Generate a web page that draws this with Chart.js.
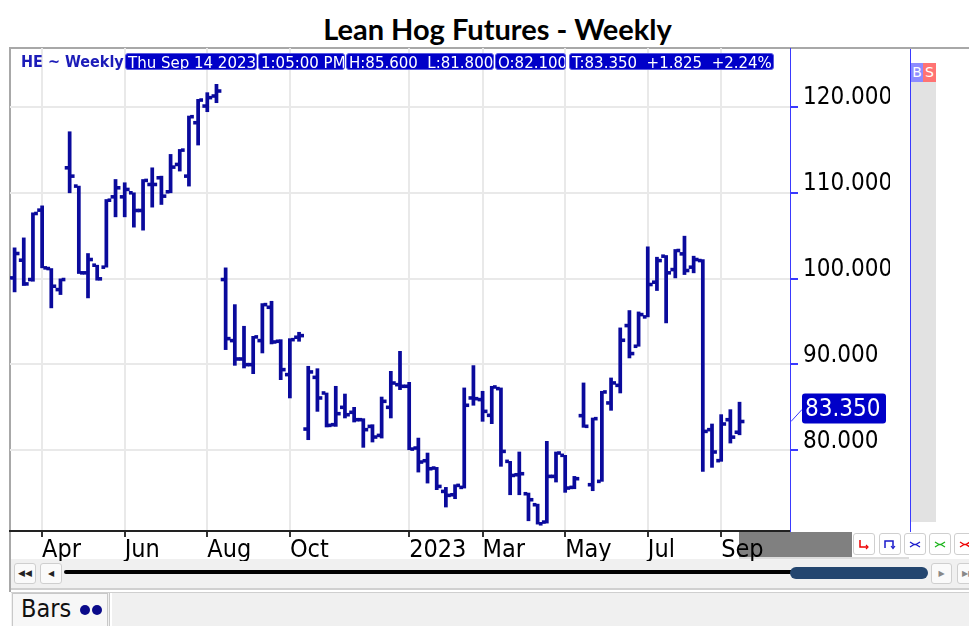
<!DOCTYPE html>
<html><head><meta charset="utf-8">
<script src="https://cdn.jsdelivr.net/npm/chart.js@4.4.0/dist/chart.umd.min.js"></script>
<style>
html,body{margin:0;padding:0;background:#fff;width:969px;height:626px;overflow:hidden;position:relative;font-family:"DejaVu Sans",sans-serif;}
.abs{position:absolute;}
#title{left:0;top:11px;width:995px;text-align:center;font:bold 29px Lato,"Open Sans",sans-serif;color:#000;}
.hbox{position:absolute;top:53px;height:17px;line-height:17px;background:#0000c8;color:#fff;font:15px "DejaVu Sans",sans-serif;white-space:pre;border:1px solid #5a5ae0;border-radius:3px;box-sizing:border-box;padding-left:2px;overflow:hidden;}
.btn{position:absolute;background:#fff;border:1px solid #cfcfcf;border-radius:3px;box-sizing:border-box;}
canvas{position:absolute;left:0;top:0;z-index:2;}
.top{z-index:3;}
</style>
</head><body>
<div id="title" class="abs">Lean Hog Futures - Weekly</div>
<!-- frame -->
<div class="abs" style="left:9px;top:47px;width:960px;height:2px;background:#a8a8a8"></div>
<div class="abs" style="left:9px;top:47px;width:2px;height:545px;background:#a8a8a8"></div>
<!-- gray box under x axis -->
<div class="abs" style="left:739px;top:532px;width:113px;height:25px;background:#808080"></div>
<div class="abs" style="left:739px;top:557px;width:170px;height:2px;background:#dcdcdc"></div>
<!-- right strip -->
<div class="abs top" style="left:910px;top:49px;width:1px;height:483px;background:#3a3aff"></div>
<div class="abs" style="left:911px;top:63px;width:25px;height:459px;background:#e2e2e2"></div>
<div class="abs top" style="left:911px;top:63px;width:12px;height:19px;background:#8c8cff;color:#fff;font:14px 'DejaVu Sans';line-height:19px;text-align:center">B</div>
<div class="abs top" style="left:923px;top:63px;width:13px;height:19px;background:#ff7373;color:#fff;font:14px 'DejaVu Sans';line-height:19px;text-align:center">S</div>
<!-- axis row buttons -->
<div class="btn" style="left:853px;top:533px;width:22px;height:22px"><svg width="20" height="20"><path d="M6 6 V13 H13" stroke="#e00" stroke-width="1.5" fill="none"/><path d="M12 11 L14 13 L12 15" stroke="#e00" stroke-width="1.2" fill="none"/></svg></div>
<div class="btn" style="left:879px;top:533px;width:22px;height:22px"><svg width="20" height="20"><path d="M5 14 V7 H13 V14" stroke="#1a1acc" stroke-width="1.5" fill="none"/><path d="M11 12 L13 14.5 L15 12" stroke="#1a1acc" stroke-width="1.2" fill="none"/></svg></div>
<div class="btn" style="left:904px;top:533px;width:22px;height:22px"><svg width="20" height="20"><path d="M5 8 L9 10.5 L5 13 M15 8 L11 10.5 L15 13 M8 10.5 H12" stroke="#1a1acc" stroke-width="1.3" fill="none"/></svg></div>
<div class="btn" style="left:929px;top:533px;width:22px;height:22px"><svg width="20" height="20"><path d="M5 8 L9 10.5 L5 13 M15 8 L11 10.5 L15 13 M8 10.5 H12" stroke="#1bb41b" stroke-width="1.3" fill="none"/></svg></div>
<div class="btn" style="left:954px;top:533px;width:22px;height:22px"><svg width="20" height="20"><path d="M5 8 L9 10.5 L5 13 M15 8 L11 10.5 L15 13 M8 10.5 H12" stroke="#e00" stroke-width="1.3" fill="none"/></svg></div>
<!-- scroll area -->
<div class="abs" style="left:11px;top:559px;width:958px;height:29px;background:#f0f0f0"></div>
<div class="btn" style="left:14px;top:563px;width:22px;height:21px;background:#fafafa;font:9px 'DejaVu Sans';line-height:19px;text-align:center;color:#222">◀◀</div>
<div class="btn" style="left:40px;top:563px;width:22px;height:21px;background:#fafafa;font:8px 'DejaVu Sans';line-height:19px;text-align:center;color:#222">◀</div>
<div class="abs" style="left:64px;top:570px;width:730px;height:4px;background:#000;border-radius:2px"></div>
<div class="abs" style="left:790px;top:567px;width:138px;height:12px;background:#24466f;border-radius:6px"></div>
<div class="btn" style="left:931px;top:563px;width:21px;height:21px;background:#fafafa;font:8px 'DejaVu Sans';line-height:19px;text-align:center;color:#888">▶</div>
<div class="btn" style="left:957px;top:563px;width:22px;height:21px;background:#fafafa;font:8px 'DejaVu Sans';line-height:19px;text-align:left;padding-left:4px;color:#888">▶▶</div>
<!-- bottom tabs -->
<div class="abs" style="left:11px;top:588px;width:958px;height:2px;background:#cfcfcf"></div>
<div class="abs" style="left:11px;top:590px;width:958px;height:2px;background:#fff"></div>
<div class="abs" style="left:11px;top:592px;width:958px;height:34px;background:#f0f0f0;border-top:1px solid #cfcfcf;box-sizing:border-box"></div>
<div class="abs" style="left:12px;top:593px;width:96px;height:33px;background:#f7f7f7;border:1px solid #c8c8c8;border-bottom:none;box-sizing:border-box"></div>
<div class="abs" style="left:109px;top:593px;width:3px;height:33px;background:#fff;border-left:1px solid #c8c8c8;box-sizing:border-box"></div>
<div class="abs" style="left:21px;top:594px;font:25px 'DejaVu Sans Condensed','DejaVu Sans';color:#111;line-height:30px">Bars</div>
<div class="abs" style="left:80px;top:605px;width:10px;height:10px;border-radius:50%;background:#0a0a8a"></div>
<div class="abs" style="left:92px;top:605px;width:10px;height:10px;border-radius:50%;background:#0a0a8a"></div>
<!-- header info -->
<div class="abs top" style="left:21px;top:52px;font:bold 16px 'DejaVu Sans Condensed','DejaVu Sans';color:#1c1cb8;line-height:19px;white-space:pre">HE ~ Weekly</div>
<div class="hbox top" style="left:125px;width:132px">Thu Sep 14 2023</div>
<div class="hbox top" style="left:258px;width:87px">1:05:00 PM</div>
<div class="hbox top" style="left:346px;width:148px">H:85.600  L:81.800</div>
<div class="hbox top" style="left:495px;width:71px">O:82.100</div>
<div class="hbox top" style="left:569px;width:205px">T:83.350  +1.825  +2.24%</div>

<canvas id="c" width="969" height="626"></canvas>
<script>
// weekly bars (week ending dates)
const weeks = [
 '2022-03-11','2022-03-18','2022-03-25','2022-04-01','2022-04-08','2022-04-15','2022-04-22','2022-04-29',
 '2022-05-06','2022-05-13','2022-05-20','2022-05-27','2022-06-03','2022-06-10','2022-06-17','2022-06-24',
 '2022-07-01','2022-07-08','2022-07-15','2022-07-22','2022-07-29','2022-08-05','2022-08-12','2022-08-19',
 '2022-08-26','2022-09-02','2022-09-09','2022-09-16','2022-09-23','2022-09-30','2022-10-07','2022-10-14',
 '2022-10-21','2022-10-28','2022-11-04','2022-11-11','2022-11-18','2022-11-25','2022-12-02','2022-12-09',
 '2022-12-16','2022-12-23','2022-12-30','2023-01-06','2023-01-13','2023-01-20','2023-01-27','2023-02-03',
 '2023-02-10','2023-02-17','2023-02-24','2023-03-03','2023-03-10','2023-03-17','2023-03-24','2023-03-31',
 '2023-04-07','2023-04-14','2023-04-21','2023-04-28','2023-05-05','2023-05-12','2023-05-19','2023-05-26',
 '2023-06-02','2023-06-09','2023-06-16','2023-06-23','2023-06-30','2023-07-07','2023-07-14','2023-07-21',
 '2023-07-28','2023-08-04','2023-08-11','2023-08-18','2023-08-25','2023-09-01','2023-09-08','2023-09-14'
];
const emptyWeeks = ['', '', '', '', ''];
const opens = [100.07,102.13,99.88,107.96,101.16,98.71,112.89,110.76,100.66,101.55,
 101.32,109.51,109.51,109.98,107.92,110.95,111.73,110.10,113.28,111.92,
 118.14,120.08,121.25,99.88,92.77,90.63,89.97,92.77,96.65,92.69,
 88.81,93.16,82.47,88.49,86.67,82.98,85.00,84.42,83.56,82.78,
 81.73,85.00,87.64,87.45,80.26,78.78,77.93,75.21,74.82,75.68,
 86.09,85.90,84.07,87.18,78.71,77.15,74.94,73.66,71.64,76.96,
 79.41,75.68,84.03,75.99,76.38,85.51,87.56,94.52,92.11,95.53,
 99.57,102.60,101.04,102.87,101.32,102.09,82.40,78.79,83.56,82.10];
const highs = [103.57,104.73,107.65,108.46,101.16,99.96,117.09,110.76,102.91,101.55,
 109.20,111.53,111.15,109.98,111.53,112.89,111.92,114.45,115.03,118.92,
 120.86,121.64,122.61,101.24,96.96,94.44,93.27,97.08,97.35,92.88,
 93.00,93.74,89.78,89.50,86.67,87.45,86.55,85.00,83.68,82.98,
 86.20,89.19,91.52,87.91,81.42,79.68,78.01,75.68,75.99,87.26,
 89.86,86.87,87.45,87.26,78.71,79.80,75.02,73.73,81.04,79.80,
 79.41,76.96,87.84,83.76,86.87,88.42,94.25,96.27,96.11,103.69,
 102.48,102.68,103.38,104.93,102.60,102.21,83.06,84.15,84.73,85.60];
const lows = [98.44,99.18,99.68,101.24,96.58,98.13,109.98,100.58,97.74,99.80,
 101.32,107.18,107.18,105.98,105.63,108.31,108.62,109.98,112.51,110.76,
 115.54,119.42,120.47,91.72,89.89,89.58,88.92,91.33,92.38,88.22,
 86.09,92.69,81.23,84.53,82.71,82.78,83.76,83.29,80.34,80.96,
 81.42,83.76,87.06,80.06,77.46,76.18,75.41,73.39,74.36,75.60,
 85.24,83.37,83.10,78.13,74.82,74.82,71.79,71.40,71.52,76.30,
 75.10,75.52,82.67,75.29,76.38,84.65,86.67,90.75,92.11,95.53,
 98.60,94.83,100.07,100.46,100.66,77.54,78.01,78.71,80.84,81.80];
const closes = [102.91,99.37,107.57,101.24,99.10,99.88,111.92,100.66,102.21,99.96,
 109.12,110.56,110.37,107.92,111.42,110.95,109.59,112.97,114.95,118.84,
 120.78,121.06,121.83,93.00,90.63,89.97,93.20,96.96,92.61,89.39,
 92.88,93.35,89.12,86.09,82.90,84.26,84.14,83.56,82.40,81.54,
 85.70,87.83,87.45,80.14,78.63,77.85,75.79,74.75,75.91,85.24,
 86.01,84.53,87.37,79.87,77.07,77.27,74.24,71.44,76.96,79.68,
 75.60,76.69,82.79,83.68,86.79,87.84,92.81,91.26,95.80,99.30,
 102.09,100.66,103.26,100.93,102.21,82.20,79.80,83.06,81.53,83.35];
const tickWeeks = ['2022-04-01','2022-06-03','2022-08-05','2022-10-07','2023-01-06','2023-03-03','2023-05-05','2023-07-07','2023-09-01'];
const tickLabels = ['Apr','Jun','Aug','Oct','2023','Mar','May','Jul','Sep'];
const priceTicks = [80, 90, 100, 110, 120];

const BAR = '#0a0a9c';
const TH = 0.17; // half height of open/close ticks (price units)
const labels = weeks.concat(emptyWeeks);
const FAM = '"DejaVu Sans Condensed","DejaVu Sans",sans-serif';

const badge = {
  id: 'badge',
  afterDraw(chart) {
    const ctx = chart.ctx, ys = chart.scales.y;
    const v = closes[closes.length - 1];
    const py = ys.getPixelForValue(v);
    const x0 = chart.chartArea.right;
    ctx.save();
    ctx.strokeStyle = '#3a3aff'; ctx.lineWidth = 1;
    ctx.beginPath(); ctx.moveTo(x0 + 1, py); ctx.lineTo(x0 + 12, py - 12); ctx.stroke();
    ctx.fillStyle = '#0000c8';
    ctx.beginPath(); ctx.roundRect(x0 + 12, py - 28, 84, 30, 3); ctx.fill();
    ctx.fillStyle = '#fff';
    ctx.font = '24px ' + FAM;
    ctx.textBaseline = 'middle';
    ctx.fillText(v.toFixed(3), x0 + 15, py - 12);
    ctx.restore();
  }
};

new Chart(document.getElementById('c'), {
  type: 'bar',
  data: {
    labels: labels,
    datasets: [
      {data: opens.map(o => [o - TH, o + TH]), backgroundColor: BAR},
      {data: lows.map((l, i) => [l, highs[i]]), backgroundColor: BAR},
      {data: closes.map(c => [c - TH, c + TH]), backgroundColor: BAR}
    ]
  },
  options: {
    responsive: false,
    animation: false,
    devicePixelRatio: 1,
    layout: {padding: {left: 10, top: 48, right: 79, bottom: 65}},
    datasets: {bar: {barPercentage: 1.0, categoryPercentage: 1.0, borderWidth: 0, grouped: true}},
    plugins: {legend: {display: false}, tooltip: {enabled: false}, title: {display: false}},
    scales: {
      x: {
        type: 'category',
        offset: true,
        afterBuildTicks: s => { s.ticks = tickWeeks.map(d => ({value: labels.indexOf(d)})); },
        afterFit: s => { s.height = 30; },
        grid: {offset: false, color: '#e9e9e9', lineWidth: 2, tickColor: '#333', tickLength: 6},
        border: {color: '#222', width: 2},
        ticks: {autoSkip: false, maxRotation: 0, minRotation: 0, align: 'start', padding: 1,
          color: '#000', font: {family: FAM, size: 25, lineHeight: 1.0}, callback: (v, i) => tickLabels[i]}
      },
      y: {
        type: 'linear',
        position: 'right',
        min: 70.6, max: 126.84,
        afterBuildTicks: s => { s.ticks = priceTicks.map(v => ({value: v})); },
        afterFit: s => { s.width = 100; },
        grid: {color: '#e9e9e9', lineWidth: 2, tickColor: '#3a3aff', tickLength: 8},
        border: {color: '#3a3aff', width: 1},
        ticks: {padding: 5, labelOffset: -9, color: '#000', font: {family: FAM, size: 24, lineHeight: 1.0},
          callback: v => Number(v).toFixed(3)}
      }
    }
  },
  plugins: [badge]
});
</script>
</body></html>
